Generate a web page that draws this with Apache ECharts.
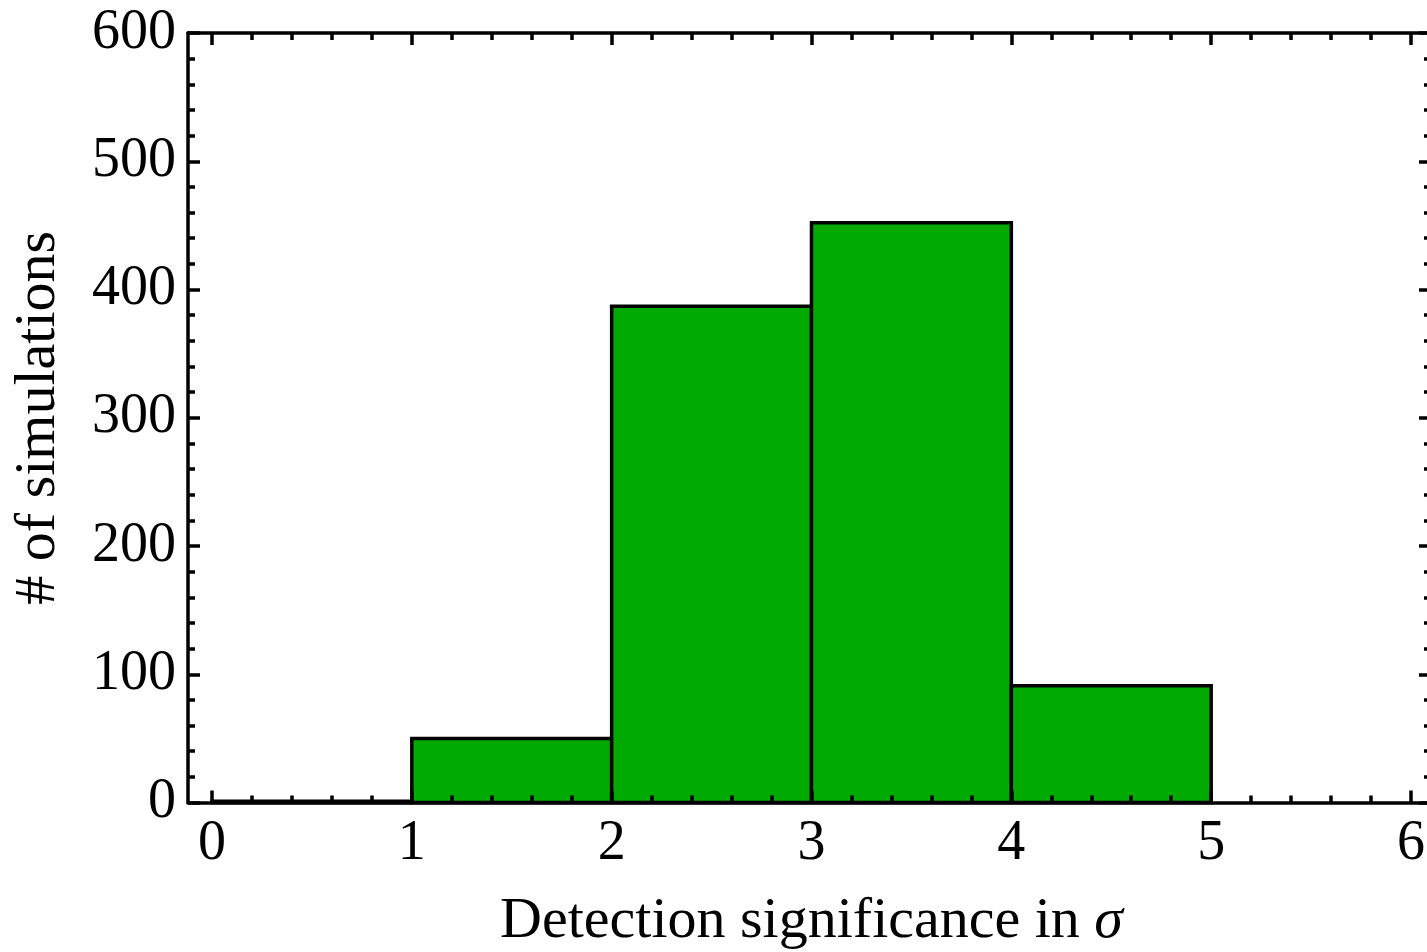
<!DOCTYPE html>
<html>
<head>
<meta charset="utf-8">
<script src="https://cdn.jsdelivr.net/npm/echarts@6/dist/echarts.min.js"></script>
<style>
  html, body { margin: 0; padding: 0; background: #fff; }
  #chart { width: 1427px; height: 952px; }
</style>
</head>
<body>
<div id="chart"></div>
<script>
// histogram bins (detection significance in sigma) and counts
var binStarts = [0, 1, 2, 3, 4];
var binEnds = [1, 2, 3, 4, 5];
var counts = [1, 50, 387, 452, 91];

var xTicks = [0, 1, 2, 3, 4, 5, 6];
var yTicks = [0, 100, 200, 300, 400, 500, 600];

var FONT = 'Liberation Serif';

// frame range (Mathematica-style padding) vs tick range
var frameMin = -0.12, frameMax = 6.1;
var frameLeft = 188, frameWidth = 1243, frameTop = 33, frameHeight = 769.5;
var pxPerUnit = frameWidth / (frameMax - frameMin);
var tickLeft = frameLeft + (xTicks[0] - frameMin) * pxPerUnit;
var tickWidth = (xTicks[xTicks.length - 1] - xTicks[0]) * pxPerUnit;

var histData = binStarts.map(function (s, i) {
  return [s, binEnds[i], counts[i]];
});

var lineW = 3.5;
var tickStyle = {
  show: true, inside: true, length: 12,
  lineStyle: { color: '#000', width: 3.5 }
};
var minorStyle = {
  show: true, splitNumber: 5, length: 7,
  lineStyle: { color: '#000', width: 3.5 }
};
var frameLine = { show: true, onZero: false, lineStyle: { color: '#000', width: lineW } };

var myChart = echarts.init(document.getElementById('chart'));

myChart.setOption({
  backgroundColor: '#fff',
  animation: false,
  grid: [
    { left: frameLeft, top: frameTop, width: frameWidth, height: frameHeight, outerBoundsMode: 'none', containLabel: false },
    { left: tickLeft, top: frameTop, width: tickWidth, height: frameHeight, outerBoundsMode: 'none', containLabel: false }
  ],
  xAxis: [
    // frame lines
    { gridIndex: 0, type: 'value', position: 'bottom', min: frameMin, max: frameMax, z: 5,
      axisLine: frameLine,
      axisTick: { show: false }, axisLabel: { show: false }, splitLine: { show: false } },
    { gridIndex: 0, type: 'value', position: 'top', min: frameMin, max: frameMax, z: 5,
      axisLine: frameLine,
      axisTick: { show: false }, axisLabel: { show: false }, splitLine: { show: false } },
    // ticks and labels
    { gridIndex: 1, type: 'value', position: 'bottom', min: xTicks[0], max: xTicks[xTicks.length - 1], interval: 1, z: 5,
      axisLine: { show: false, onZero: false },
      axisTick: tickStyle, minorTick: minorStyle, splitLine: { show: false },
      axisLabel: { show: true, margin: 14, fontSize: 56, fontFamily: FONT, color: '#000' },
      name: 'Detection significance in {i|σ}',
      nameLocation: 'middle', nameGap: 90,
      nameTextStyle: {
        fontSize: 58, fontFamily: FONT, color: '#000',
        rich: { i: { fontSize: 58, fontFamily: FONT, fontStyle: 'italic', color: '#000' } }
      } },
    { gridIndex: 1, type: 'value', position: 'top', min: xTicks[0], max: xTicks[xTicks.length - 1], interval: 1, z: 5,
      axisLine: { show: false, onZero: false },
      axisTick: tickStyle, minorTick: minorStyle, splitLine: { show: false },
      axisLabel: { show: false } }
  ],
  yAxis: [
    { gridIndex: 0, type: 'value', position: 'left', min: yTicks[0], max: yTicks[yTicks.length - 1], interval: 100, z: 5,
      axisLine: frameLine,
      axisTick: tickStyle, minorTick: minorStyle, splitLine: { show: false },
      axisLabel: { show: true, margin: 12, fontSize: 56, fontFamily: FONT, color: '#000' },
      name: '# of simulations',
      nameLocation: 'middle', nameGap: 120, nameRotate: 90,
      nameTextStyle: { fontSize: 58, fontFamily: FONT, color: '#000' } },
    { gridIndex: 0, type: 'value', position: 'right', min: yTicks[0], max: yTicks[yTicks.length - 1], interval: 100, z: 5,
      axisLine: frameLine,
      axisTick: tickStyle, minorTick: minorStyle, splitLine: { show: false },
      axisLabel: { show: false } },
    { gridIndex: 1, type: 'value', min: yTicks[0], max: yTicks[yTicks.length - 1], show: false }
  ],
  series: [{
    type: 'custom',
    xAxisIndex: 2,
    yAxisIndex: 2,
    data: histData,
    z: 2,
    renderItem: function (params, api) {
      var p0 = api.coord([api.value(0), api.value(2)]);
      var p1 = api.coord([api.value(1), 0]);
      return {
        type: 'rect',
        shape: { x: p0[0], y: p0[1], width: p1[0] - p0[0], height: p1[1] - p0[1] },
        style: { fill: '#00aa00', stroke: '#000', lineWidth: 3.5 }
      };
    }
  }]
});
</script>
</body>
</html>
